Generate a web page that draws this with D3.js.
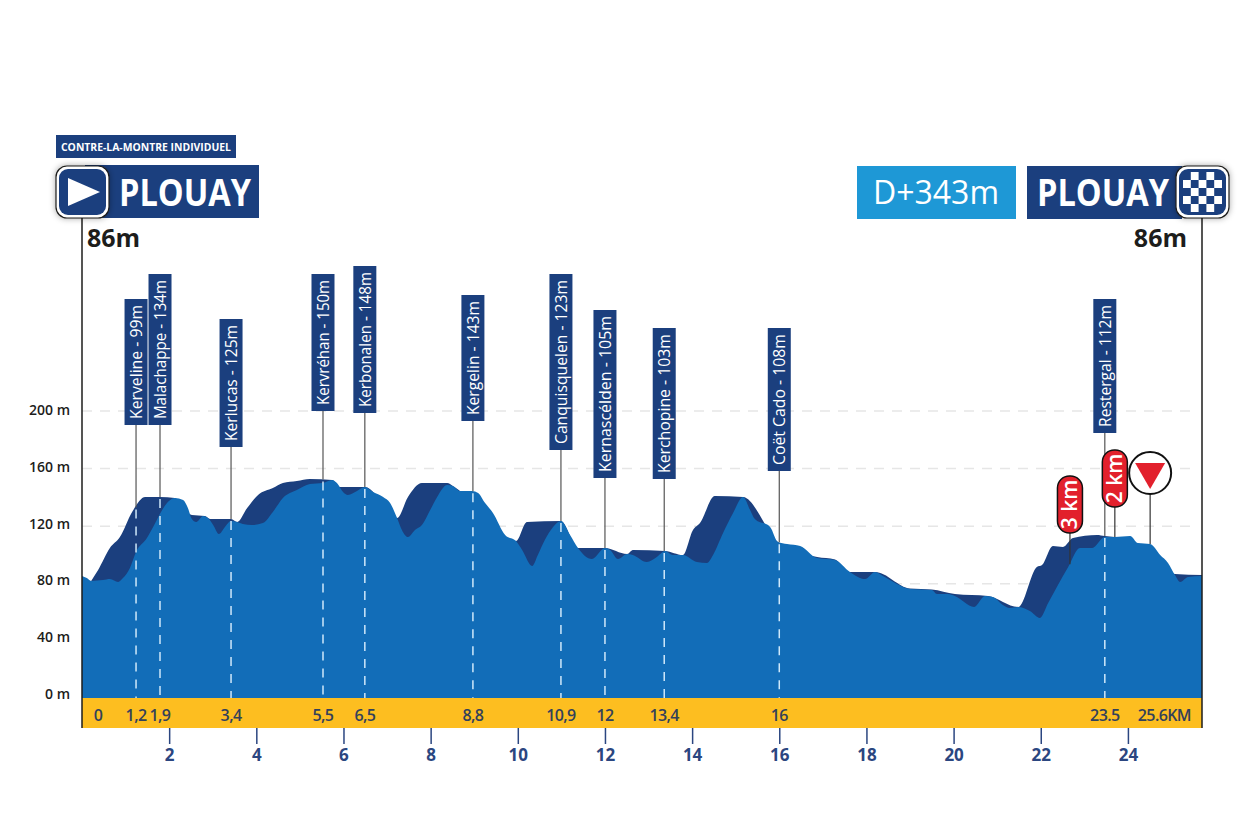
<!DOCTYPE html>
<html lang="fr">
  <head>
    <meta charset="UTF-8" />
    <title>Plouay - contre-la-montre individuel</title>
    <style>
      html, body { margin: 0; padding: 0; background: #fff; }
      svg { display: block; font-family: "Open Sans", sans-serif; }
    </style>
  </head>
  <body>
    <svg id="svg" width="1260" height="840"></svg>
    <script src="https://cdn.jsdelivr.net/npm/d3@7"></script>
    <script>
      // Front profile (km, m)
      const frontKm = [0,.11,.21,.48,.64,.83,.94,1.1,1.24,1.49,1.68,1.84,1.97,2.13,2.32,2.43,2.52,2.62,2.78,2.89,3.01,3.14,3.28,3.42,3.56,3.69,3.9,4.15,4.38,4.61,4.93,5.23,5.53,5.74,5.85,5.99,6.1,6.31,6.49,6.68,6.91,7.07,7.23,7.34,7.48,7.64,7.8,7.99,8.15,8.38,8.51,8.67,8.95,9.09,9.25,9.43,9.71,9.96,10.1,10.33,10.46,10.62,10.81,10.99,11.2,11.38,11.7,12,12.12,12.3,12.51,12.64,12.96,13.19,13.38,13.56,13.79,14.11,14.34,14.48,14.71,14.94,15.17,15.33,15.44,15.79,15.97,16.18,16.48,16.87,17.28,17.62,17.97,18.2,18.38,18.7,19,19.5,19.62,19.87,20.03,20.47,20.72,20.9,21.13,21.29,21.48,21.75,21.98,22.17,22.37,22.63,22.9,23.18,23.47,23.7,24.05,24.23,24.51,24.74,24.92,25.08,25.2,25.38,25.7];
      const frontM = [84.7,83.3,81.3,81.9,82.6,80.6,83.3,90.3,101.4,111.1,121.5,130.6,136.1,138.9,137.5,131.9,124.3,122.2,126.4,125,120.1,113.9,118.8,122.9,122.2,120.8,120.1,121.5,129.2,138.9,144.4,148.6,149.3,151.4,149.3,143.1,141,143.8,146.5,143.1,139.6,135.4,125,116.7,111.8,116.7,120.1,130.6,139.6,147.9,147.2,143.8,143.8,142.4,135.4,128.5,113.2,109,102.8,91.7,99.3,109.7,118.8,122.9,113.2,104.2,96.5,104.2,102.8,96.5,100,99.3,94.4,97.9,102.1,99.3,99.3,94.4,93.8,99.3,114.6,128.5,139.6,130.6,124.3,118.8,108.3,106.9,105.6,97.2,95.8,87.5,82.6,87.5,84.7,79.2,75.7,75,72.2,72.2,70.8,63.2,70.8,70.1,64.6,62.5,63.2,60.4,55.6,66,77.1,91,104.2,104.2,111.8,111.8,112.5,107.6,106.9,99.3,93.8,85.4,80.6,84,84.7];

      // Back ridge (km, m), mostly hidden by the front profile
      const backKm = [.21,.37,.64,.87,1.15,1.45,1.79,2.13,2.52,2.82,2.94,3.42,3.56,3.79,4.04,4.38,4.61,4.93,5.23,5.74,5.92,6.49,7.23,7.48,7.8,8.38,8.51,9.96,10.21,10.99,11.38,12,12.51,12.64,13.38,13.79,14.02,14.18,14.52,15.17,15.97,16.87,17.28,17.62,18.2,19,19.5,20.03,20.79,21.48,21.91,22.03,22.28,22.51,22.74,23.29,23.47,23.7,25.08,25.7];
      const backM = [81.3,88.9,104.2,111.8,129.2,139.6,139.6,138.9,127.1,126.4,124.3,124.3,122.2,131.9,141,145.8,149.3,150.7,152.1,151.4,146.5,146.5,125,139.6,149.3,149.3,147.2,109,122.2,122.9,104.2,104.2,100,102.8,102.1,99.3,116.7,121.5,140.3,139.6,108.3,97.9,96.2,87.5,87.5,76,75.3,72.2,70.8,63.2,91,92.4,105.6,104.9,111.1,113.2,112.5,111.8,86.1,85.4];

      // Named places along the route
      const passNames = ["Kerveline - 99m","Malachappe - 134m","Kerlucas - 125m","Kervréhan - 150m","Kerbonalen - 148m","Kergelin - 143m","Canquisquelen - 123m","Kernascélden - 105m","Kerchopine - 103m","Coët Cado - 108m","Restergal - 112m"];
      const passKm = [1.24,1.79,3.42,5.53,6.49,8.97,10.99,12,13.36,16,23.47];
      const passKmLabels = ["1,2","1,9","3,4","5,5","6,5","8,8","10,9","12","13,4","16","23.5"];

      const kmTicks = [2,4,6,8,10,12,14,16,18,20,22,24];
      const elevTicks = [0,40,80,120,160,200];
      const kmMarkers = ["3 km","2 km"];
      const kmMarkerPos = [22.67,23.7];
      const flammeKm = 24.51;

      // Layout, kept apart from the data
      const labelBox = [[299,425],[274,425],[319,447],[274,411],[266,413],[295,421],[274,450],[310,478],[328,479],[328,471],[299,433]];
      const markerBox = [[476,533],[450,507]];

      const navy = "#1b3f7e";
      const blue = "#126db8";
      const yellow = "#fdbe20";
      const red = "#e2202c";

      const svg = d3.select("#svg");
      const x = d3.scaleLinear().domain([0, 25.7]).range([82, 1202]);
      const y = d3.scaleLinear().domain([0, 200]).range([698, 410]);
      const yLabel = d3.scaleLinear().domain([0, 200]).range([694, 410]);
      const bandBottom = 728;

      const elevAt = (xs, ys, km) => {
        const i = d3.bisectLeft(xs, km);
        if (i <= 0) return ys[0];
        if (i >= xs.length) return ys[ys.length - 1];
        const t = (km - xs[i - 1]) / (xs[i] - xs[i - 1]);
        return ys[i - 1] + t * (ys[i] - ys[i - 1]);
      };
      const frontAt = (km) => elevAt(frontKm, frontM, km);
      const topAt = (km) => Math.max(frontAt(km), elevAt(backKm, backM, km));

      const defs = svg.append("defs");
      defs.append("filter")
        .attr("id", "badgeShadow")
        .attr("x", "-30%").attr("y", "-30%").attr("width", "160%").attr("height", "160%")
        .append("feDropShadow")
        .attr("dx", 0).attr("dy", 0).attr("stdDeviation", 3)
        .attr("flood-color", "#000").attr("flood-opacity", 0.35);

      // Grid
      svg.append("g")
        .attr("transform", "translate(0,1)")
        .selectAll("line")
        .data(elevTicks.filter((d) => d > 0))
        .join("line")
        .attr("x1", x(0))
        .attr("x2", 1192)
        .attr("y1", (d) => y(d))
        .attr("y2", (d) => y(d))
        .attr("stroke", "#e6e6e6")
        .attr("stroke-width", 1.5)
        .attr("stroke-dasharray", "10 8");

      svg.append("g")
        .selectAll("text")
        .data(elevTicks)
        .join("text")
        .attr("x", 70)
        .attr("y", (d) => yLabel(d))
        .attr("dy", "0.35em")
        .attr("text-anchor", "end")
        .attr("font-size", 14)
        .attr("font-weight", 600)
        .attr("fill", "#1d1d1b")
        .text((d) => d + " m");

      // Profile
      const area = d3.area()
        .x((d) => x(d[0]))
        .y0(y(0))
        .y1((d) => y(d[1]))
        .curve(d3.curveMonotoneX);

      svg.append("path").attr("d", area(d3.zip(backKm, backM))).attr("fill", navy);
      svg.append("path").attr("d", area(d3.zip(frontKm, frontM))).attr("fill", blue);

      // Distance band
      svg.append("rect")
        .attr("x", x(0))
        .attr("y", y(0))
        .attr("width", x(25.7) - x(0))
        .attr("height", bandBottom - y(0))
        .attr("fill", yellow);

      const bandText = (g, px, s, anchor) =>
        g.append("text")
          .attr("x", px)
          .attr("y", 721)
          .attr("text-anchor", anchor || "middle")
          .attr("font-size", 16)
          .attr("font-weight", 600)
          .attr("letter-spacing", -0.6)
          .attr("fill", "#33415a")
          .text(s);

      const band = svg.append("g");
      bandText(band, 98, "0");
      passKm.forEach((km, i) => bandText(band, x(km), passKmLabels[i]));
      bandText(band, 1191, "25.6KM", "end");

      // Km axis
      const axis = svg.append("g")
        .attr("transform", `translate(0,${bandBottom})`)
        .call(d3.axisBottom(x).tickValues(kmTicks).tickSize(16).tickPadding(5).tickFormat((d) => d));
      axis.select(".domain").remove();
      axis.selectAll("line").attr("stroke", "#2b4680").attr("stroke-width", 1.5);
      axis.selectAll("text")
        .attr("fill", "#2b4680")
        .attr("font-family", '"Open Sans", sans-serif')
        .attr("font-size", 17)
        .attr("font-weight", 700);

      // Start and finish verticals
      svg.append("g")
        .selectAll("line")
        .data([0, 25.7])
        .join("line")
        .attr("x1", (d) => x(d))
        .attr("x2", (d) => x(d))
        .attr("y1", 216)
        .attr("y2", bandBottom)
        .attr("stroke", "#1d1d1b")
        .attr("stroke-width", 1.5);

      // Place labels
      const passes = svg.append("g");
      passNames.forEach((name, i) => {
        const px = x(passKm[i]);
        const [top, bottom] = labelBox[i];
        const ridge = y(topAt(passKm[i]));
        passes.append("line")
          .attr("x1", px).attr("x2", px)
          .attr("y1", bottom).attr("y2", ridge)
          .attr("stroke", "#555")
          .attr("stroke-width", 1.2);
        passes.append("line")
          .attr("x1", px).attr("x2", px)
          .attr("y1", ridge + 2).attr("y2", y(0))
          .attr("stroke", "#cfe8fa")
          .attr("stroke-width", 1.5)
          .attr("stroke-dasharray", "9 8");
        passes.append("rect")
          .attr("x", px - 11.5).attr("y", top)
          .attr("width", 23).attr("height", bottom - top)
          .attr("fill", navy);
        passes.append("text")
          .attr("transform", `translate(${px + 6},${(top + bottom) / 2}) rotate(-90)`)
          .attr("text-anchor", "middle")
          .attr("font-size", 16.5)
          .attr("fill", "#fff")
          .attr("font-weight", 500)
          .attr("textLength", bottom - top - 12)
          .attr("lengthAdjust", "spacingAndGlyphs")
          .text(name);
      });

      // Last km markers
      const markers = svg.append("g");
      kmMarkers.forEach((s, i) => {
        const px = x(kmMarkerPos[i]);
        const [top, bottom] = markerBox[i];
        markers.append("line")
          .attr("x1", px).attr("x2", px)
          .attr("y1", bottom).attr("y2", y(frontAt(kmMarkerPos[i])))
          .attr("stroke", "#333").attr("stroke-width", 1.2);
        markers.append("rect")
          .attr("x", px - 12.5).attr("y", top)
          .attr("width", 25).attr("height", bottom - top)
          .attr("rx", 12)
          .attr("fill", red)
          .attr("stroke", "#111")
          .attr("stroke-width", 1.5);
        markers.append("text")
          .attr("transform", `translate(${px + 7.5},${(top + bottom) / 2}) rotate(-90)`)
          .attr("text-anchor", "middle")
          .attr("font-size", 21)
          .attr("font-weight", 600)
          .attr("fill", "#fff")
          .text(s);
      });

      // Flamme rouge
      const fx = x(flammeKm);
      markers.append("line")
        .attr("x1", fx).attr("x2", fx)
        .attr("y1", 494).attr("y2", y(frontAt(flammeKm)))
        .attr("stroke", "#333").attr("stroke-width", 1.2);
      markers.append("circle")
        .attr("cx", fx).attr("cy", 473).attr("r", 21)
        .attr("fill", "#fff").attr("stroke", "#111").attr("stroke-width", 2);
      markers.append("path")
        .attr("d", `M${fx - 15},463 L${fx + 15},463 L${fx},489 Z`)
        .attr("fill", red);

      // Header
      const head = svg.append("g");
      head.append("rect").attr("x", 56).attr("y", 135).attr("width", 180).attr("height", 23).attr("fill", navy);
      head.append("text").attr("x", 61).attr("y", 150.5)
        .attr("font-size", 10).attr("font-weight", 700).attr("fill", "#fff")
        .attr("textLength", 170).attr("lengthAdjust", "spacingAndGlyphs")
        .text("CONTRE-LA-MONTRE INDIVIDUEL");

      head.append("rect").attr("x", 85).attr("y", 165).attr("width", 174).attr("height", 53).attr("fill", navy);
      head.append("text").attr("x", 119).attr("y", 206)
        .attr("font-size", 37).attr("font-weight", 700).attr("fill", "#fff")
        .attr("textLength", 132).attr("lengthAdjust", "spacingAndGlyphs")
        .text("PLOUAY");

      head.append("rect").attr("x", 857).attr("y", 166).attr("width", 159).attr("height", 53).attr("fill", "#1e98d6");
      head.append("text").attr("x", 936).attr("y", 204)
        .attr("text-anchor", "middle").attr("font-size", 32).attr("fill", "#fff")
        .text("D+343m");

      head.append("rect").attr("x", 1027).attr("y", 166).attr("width", 155).attr("height", 53).attr("fill", navy);
      head.append("text").attr("x", 1037).attr("y", 206)
        .attr("font-size", 37).attr("font-weight", 700).attr("fill", "#fff")
        .attr("textLength", 132).attr("lengthAdjust", "spacingAndGlyphs")
        .text("PLOUAY");

      const badge = (bx) => {
        head.append("rect").attr("x", bx).attr("y", 166).attr("width", 53).attr("height", 52).attr("rx", 11)
          .attr("fill", "#fff").attr("stroke", "#1d1d1b").attr("stroke-width", 1.2)
          .attr("filter", "url(#badgeShadow)");
        head.append("rect").attr("x", bx + 3).attr("y", 169).attr("width", 47).attr("height", 46).attr("rx", 9)
          .attr("fill", navy);
      };
      badge(56);
      head.append("path").attr("d", "M68,178 L100,192 L68,206 Z").attr("fill", "#fff");
      badge(1176);
      const cellW = 7.8;
      const cellH = 8;
      d3.range(5).forEach((r) => d3.range(5).forEach((c) => {
        if ((r + c) % 2 === 0) return;
        head.append("rect")
          .attr("x", 1183 + c * cellW).attr("y", 172 + r * cellH)
          .attr("width", cellW).attr("height", cellH)
          .attr("fill", "#fff");
      }));

      head.append("text").attr("x", 87).attr("y", 247)
        .attr("font-size", 25).attr("font-weight", 700).attr("fill", "#1d1d1b").text("86m");
      head.append("text").attr("x", 1187).attr("y", 247).attr("text-anchor", "end")
        .attr("font-size", 25).attr("font-weight", 700).attr("fill", "#1d1d1b").text("86m");
    </script>
  </body>
</html>
